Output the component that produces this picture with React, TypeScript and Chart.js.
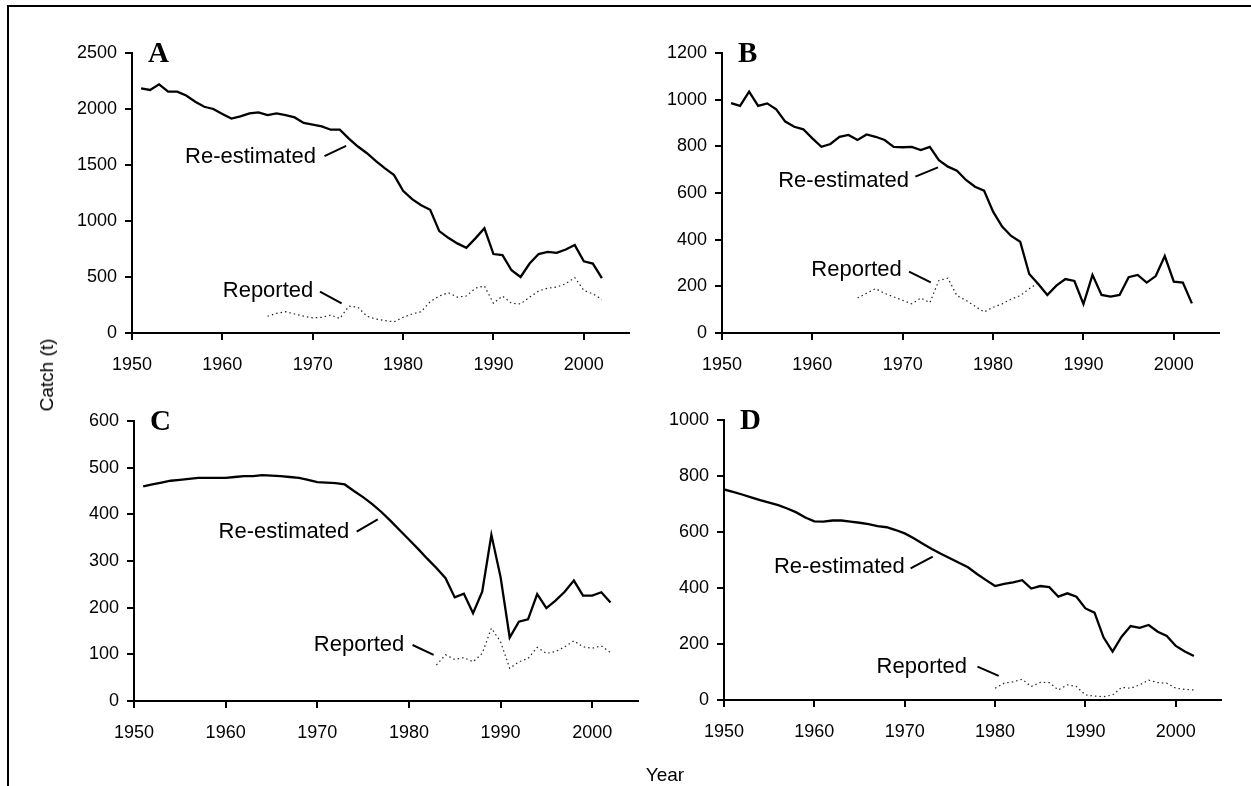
import React, { useEffect, useRef } from "react";
import { Chart, registerables } from "chart.js";
Chart.register(...registerables);

// ---------------- data ----------------
const xTickYears = [1950, 1960, 1970, 1980, 1990, 2000];

const yTicksA = [0, 500, 1000, 1500, 2000, 2500];
const yTicksB = [0, 200, 400, 600, 800, 1000, 1200];
const yTicksC = [0, 100, 200, 300, 400, 500, 600];
const yTicksD = [0, 200, 400, 600, 800, 1000];

const reestStartA = 1951;
const reestA = [
  2185, 2170, 2220, 2155, 2155, 2120, 2065, 2020, 2000, 1955,
  1915, 1935, 1960, 1970, 1945, 1960, 1945, 1925, 1875, 1860,
  1845, 1815, 1815, 1735, 1665, 1605, 1535, 1470, 1410, 1270,
  1195, 1140, 1100, 910, 850, 800, 760, 845, 935, 705,
  695, 560, 500, 620, 705, 725, 715, 745, 785, 640,
  620, 490,
];
const reportStartA = 1965;
const reportA = [
  150, 175, 190, 170, 150, 135, 140, 160, 130, 240,
  230, 150, 125, 110, 100, 140, 170, 190, 280, 330,
  360, 320, 330, 400, 420, 265, 330, 265, 260, 320,
  375, 400, 410, 440, 495, 380, 350, 300,
];

const reestStartB = 1951;
const reestB = [
  985, 973, 1034, 973, 984, 959, 906, 884, 873, 834,
  798, 810, 841, 849, 827, 851, 841, 827, 798, 796,
  798, 784, 798, 741, 713, 696, 656, 627, 610, 520,
  456, 416, 391, 253, 210, 163, 203, 231, 223, 124,
  249, 163, 156, 163, 239, 249, 216, 244, 330, 220,
  216, 127,
];
const reportStartB = 1965;
const reportB = [
  150, 170, 190, 170, 155, 140, 125, 150, 130, 225,
  235, 160, 140, 115, 90, 110, 125, 145, 160, 190, 215,
];

const reestStartC = 1951;
const reestC = [
  460, 464, 468, 472, 474, 476, 478, 478, 478, 478,
  480, 482, 482, 484, 483, 482, 480, 478, 474, 469,
  468, 467, 464, 450, 437, 422, 405, 386, 366, 346,
  326, 305, 285, 263, 222, 230, 188, 234, 356, 266,
  136, 170, 175, 229, 199, 215, 234, 258, 226, 226,
  233, 211,
];
const reportStartC = 1983;
const reportC = [
  77, 99, 89, 93, 84, 102, 156, 127, 70, 84,
  91, 115, 102, 106, 116, 129, 116, 113, 118, 104,
];

const reestStartD = 1950;
const reestD = [
  752, 743, 734, 724, 714, 705, 696, 684, 670, 652,
  638, 637, 641, 641, 637, 633, 628, 621, 617, 607,
  595, 578, 558, 539, 522, 506, 490, 474, 450, 428,
  407, 415, 420, 428, 398, 407, 403, 369, 381, 369,
  327, 312, 224, 173, 226, 264, 258, 268, 244, 229,
  193, 173, 157,
];
const reportStartD = 1980;
const reportD = [
  42, 60, 65, 74, 48, 63, 62, 36, 54, 48,
  18, 14, 12, 18, 45, 42, 54, 71, 62, 60,
  42, 38, 36,
];

// ---------------- layout / styling ----------------
type Note = { text: string; tx: number; ty: number; x1: number; y1: number; x2: number; y2: number };
type Panel = {
  letter: string;
  left: number; top: number; w: number; h: number;
  area: { l: number; r: number; t: number; b: number };
  yMax: number; yTicks: number[];
  reestStart: number; reest: number[];
  reportStart: number; report: number[];
  notes: Note[];
};

const panels: Panel[] = [
  {
    letter: "A", left: 0, top: 0, w: 650, h: 390,
    area: { l: 132, r: 629, t: 53, b: 333 },
    yMax: 2500, yTicks: yTicksA,
    reestStart: reestStartA, reest: reestA, reportStart: reportStartA, report: reportA,
    notes: [
      { text: "Re-estimated", tx: 1970.35, ty: 1520, x1: 1971.3, y1: 1580, x2: 1973.7, y2: 1670 },
      { text: "Reported", tx: 1970.06, ty: 319, x1: 1970.8, y1: 369, x2: 1973.2, y2: 265 },
    ],
  },
  {
    letter: "B", left: 650, top: 0, w: 601, h: 390,
    area: { l: 722, r: 1219, t: 53, b: 333 },
    yMax: 1200, yTicks: yTicksB,
    reestStart: reestStartB, reest: reestB, reportStart: reportStartB, report: reportB,
    notes: [
      { text: "Re-estimated", tx: 1970.7, ty: 627, x1: 1971.4, y1: 670, x2: 1973.9, y2: 710 },
      { text: "Reported", tx: 1969.9, ty: 245, x1: 1970.7, y1: 263, x2: 1973.1, y2: 217 },
    ],
  },
  {
    letter: "C", left: 0, top: 390, w: 650, h: 396,
    area: { l: 134, r: 638, t: 421, b: 701 },
    yMax: 600, yTicks: yTicksC,
    reestStart: reestStartC, reest: reestC, reportStart: reportStartC, report: reportC,
    notes: [
      { text: "Re-estimated", tx: 1973.5, ty: 349, x1: 1974.3, y1: 363, x2: 1976.6, y2: 389 },
      { text: "Reported", tx: 1979.5, ty: 108, x1: 1980.4, y1: 120, x2: 1982.7, y2: 99 },
    ],
  },
  {
    letter: "D", left: 650, top: 390, w: 601, h: 396,
    area: { l: 724, r: 1221, t: 420, b: 700 },
    yMax: 1000, yTicks: yTicksD,
    reestStart: reestStartD, reest: reestD, reportStart: reportStartD, report: reportD,
    notes: [
      { text: "Re-estimated", tx: 1970.0, ty: 452, x1: 1970.65, y1: 470, x2: 1973.1, y2: 512 },
      { text: "Reported", tx: 1976.9, ty: 98, x1: 1978.05, y1: 119, x2: 1980.4, y2: 86 },
    ],
  },
];

const SANS = '"Liberation Sans", Arial, Helvetica, sans-serif';
const SERIF = '"Liberation Serif", "Times New Roman", serif';
const TICK_SIZE = 18;
const NOTE_SIZE = 22;

function toPoints(start: number, values: number[]) {
  return values.map((v, i) => ({ x: start + i, y: v }));
}

function makeAnnoPlugin(p: Panel) {
  return {
    id: "panelAnno" + p.letter,
    afterDatasetsDraw(chart: any) {
      const { ctx, chartArea } = chart;
      const xs = chart.scales.x;
      const ys = chart.scales.y;
      ctx.save();
      ctx.fillStyle = "#000";
      ctx.strokeStyle = "#000";
      ctx.font = `bold 29px ${SERIF}`;
      ctx.textAlign = "left";
      ctx.textBaseline = "alphabetic";
      ctx.fillText(p.letter, chartArea.left + 16, chartArea.top + 9);
      ctx.font = `${NOTE_SIZE}px ${SANS}`;
      ctx.textAlign = "right";
      for (const n of p.notes) {
        ctx.fillText(n.text, xs.getPixelForValue(n.tx), ys.getPixelForValue(n.ty));
        ctx.beginPath();
        ctx.lineWidth = 2;
        ctx.moveTo(xs.getPixelForValue(n.x1), ys.getPixelForValue(n.y1));
        ctx.lineTo(xs.getPixelForValue(n.x2), ys.getPixelForValue(n.y2));
        ctx.stroke();
      }
      ctx.restore();
    },
  };
}

function PanelChart({ p }: { p: Panel }) {
  const ref = useRef<HTMLCanvasElement | null>(null);
  useEffect(() => {
    if (!ref.current) return;
    const yWidth = p.area.l - p.left;
    const padRight = p.left + p.w - p.area.r;
    const padTop = p.area.t - p.top;
    const xHeight = p.top + p.h - p.area.b;
    const axisGrid = {
      display: true,
      drawOnChartArea: false,
      drawTicks: true,
      tickLength: 7,
      color: "#000",
      lineWidth: 2,
    };
    const chart = new Chart(ref.current, {
      type: "line",
      data: {
        datasets: [
          {
            data: toPoints(p.reestStart, p.reest),
            borderColor: "#000",
            borderWidth: 2.3,
            pointRadius: 0,
            fill: false,
            tension: 0,
          },
          {
            data: toPoints(p.reportStart, p.report),
            borderColor: "#222",
            borderWidth: 1.2,
            borderDash: [1.5, 3],
            pointRadius: 0,
            fill: false,
            tension: 0,
          },
        ],
      },
      options: {
        animation: false,
        responsive: false,
        devicePixelRatio: 1,
        layout: { padding: { left: 0, right: padRight, top: padTop, bottom: 0 } },
        plugins: { legend: { display: false }, tooltip: { enabled: false } },
        scales: {
          x: {
            type: "linear",
            min: 1950,
            max: 2005,
            afterBuildTicks: (s: any) => {
              s.ticks = xTickYears.map((v) => ({ value: v }));
            },
            afterFit: (s: any) => {
              s.height = xHeight;
            },
            ticks: {
              color: "#000",
              font: { family: SANS, size: TICK_SIZE },
              padding: 14,
              maxRotation: 0,
              autoSkip: false,
              callback: (v: any) => String(v),
            },
            grid: axisGrid,
            border: { display: true, color: "#000", width: 2 },
          },
          y: {
            type: "linear",
            min: 0,
            max: p.yMax,
            afterBuildTicks: (s: any) => {
              s.ticks = p.yTicks.map((v) => ({ value: v }));
            },
            afterFit: (s: any) => {
              s.width = yWidth;
            },
            ticks: {
              color: "#000",
              font: { family: SANS, size: TICK_SIZE },
              padding: 8,
              autoSkip: false,
              callback: (v: any) => String(v),
            },
            grid: axisGrid,
            border: { display: true, color: "#000", width: 2 },
          },
        },
      },
      plugins: [makeAnnoPlugin(p)],
    } as any);
    return () => chart.destroy();
  }, [p]);
  return (
    <canvas
      ref={ref}
      width={p.w}
      height={p.h}
      style={{ position: "absolute", left: p.left, top: p.top, width: p.w, height: p.h }}
    />
  );
}

export default function App() {
  return (
    <div
      style={{
        position: "fixed",
        left: 0,
        top: 0,
        width: 1251,
        height: 786,
        background: "#fff",
        overflow: "hidden",
      }}
    >
      <div
        style={{
          position: "absolute",
          left: 7,
          top: 5,
          width: 1300,
          height: 900,
          borderTop: "2px solid #000",
          borderLeft: "2px solid #000",
        }}
      />
      {panels.map((p) => (
        <PanelChart key={p.letter} p={p} />
      ))}
      <div
        style={{
          position: "absolute",
          left: 47,
          top: 375,
          transform: "translate(-50%, -50%) rotate(-90deg)",
          fontFamily: SANS,
          fontSize: 19,
          whiteSpace: "nowrap",
          color: "#000",
        }}
      >
        Catch (t)
      </div>
      <div
        style={{
          position: "absolute",
          left: 665,
          top: 775,
          transform: "translate(-50%, -50%)",
          fontFamily: SANS,
          fontSize: 19,
          whiteSpace: "nowrap",
          color: "#000",
        }}
      >
        Year
      </div>
    </div>
  );
}
